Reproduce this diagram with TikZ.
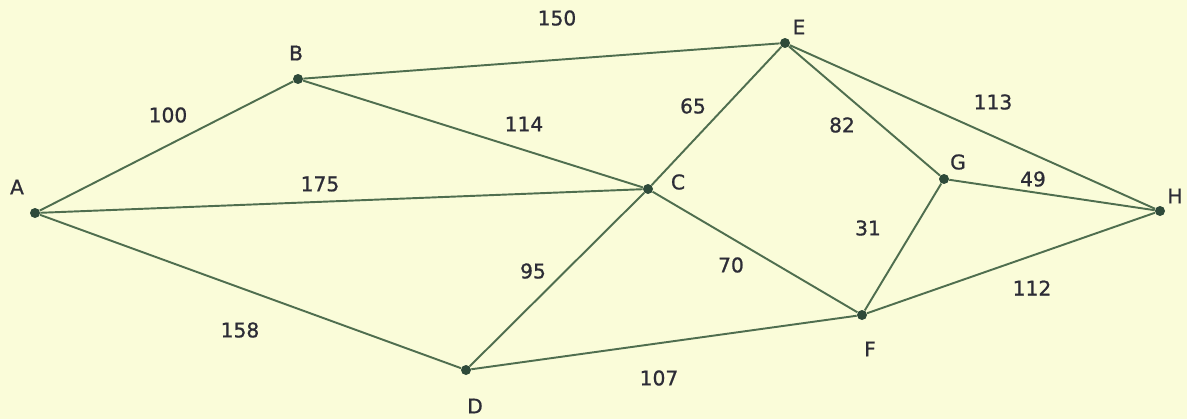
\documentclass[tikz,border=0pt]{standalone}
\usepackage{fontspec}
\setmainfont{DejaVu Sans}
\newfontfamily\lblfont{DejaVu Sans}[BoldFont=DejaVu Sans,BoldFeatures={FakeBold=0.9}]
\usepackage{xcolor}
\definecolor{paper}{HTML}{FAFCD9}
\definecolor{wire}{HTML}{4F6E4F}
\definecolor{knot}{HTML}{2E4A3A}
\definecolor{ink}{HTML}{2C2C36}
\tikzset{
  vtx/.style={circle,fill=knot,inner sep=0pt,minimum size=0.2cm},
  vlbl/.style={font=\lblfont\bfseries\fontsize{11.5}{13}\selectfont,text=ink,inner sep=0pt},
  wt/.style={font=\lblfont\bfseries\fontsize{11.5}{13}\selectfont,text=ink,inner sep=1pt},
  road/.style={wire,line width=1.1pt}
}
\begin{document}
\begin{tikzpicture}[x=0.02cm,y=-0.02cm]
  \fill[paper](0,0)rectangle(1187,419);
  \useasboundingbox(0,0)rectangle(1187,419);
  % towns
  \node[vtx] (A) at (35,213) {};
  \node[vtx] (B) at (298,79) {};
  \node[vtx] (E) at (785,43) {};
  \node[vtx] (C) at (648,189) {};
  \node[vtx] (G) at (944,179) {};
  \node[vtx] (H) at (1160,211) {};
  \node[vtx] (F) at (862,315) {};
  \node[vtx] (D) at (466,370) {};
  \node[vlbl] (lA) at (17,187) {A};
  \node[vlbl] (lB) at (296,53) {B};
  \node[vlbl] (lE) at (799,27) {E};
  \node[vlbl] (lC) at (678,182) {C};
  \node[vlbl] (lG) at (958,162) {G};
  \node[vlbl] (lH) at (1175,196) {H};
  \node[vlbl] (lF) at (870,349) {F};
  \node[vlbl] (lD) at (475,406) {D};
  % roads
  \foreach \a/\b in {A/B,A/C,A/D,B/E,B/C,E/C,E/G,E/H,G/H,G/F,C/D,C/F,D/F,F/H}
    \draw[road](\a)--(\b);
  % distances
  \node[wt] (wBE) at (557,18) {150};
  \node[wt] (wAB) at (168,115) {100};
  \node[wt] (wBC) at (524,124) {114};
  \node[wt] (wAC) at (320,184) {175};
  \node[wt] (wEC) at (693,106) {65};
  \node[wt] (wEG) at (842,125) {82};
  \node[wt] (wEH) at (993,102) {113};
  \node[wt] (wGH) at (1033,179) {49};
  \node[wt] (wGF) at (868,228) {31};
  \node[wt] (wCD) at (533,271) {95};
  \node[wt] (wCF) at (731,265) {70};
  \node[wt] (wFH) at (1032,288) {112};
  \node[wt] (wAD) at (240,330) {158};
  \node[wt] (wDF) at (659,378) {107};
\end{tikzpicture}
\end{document}
